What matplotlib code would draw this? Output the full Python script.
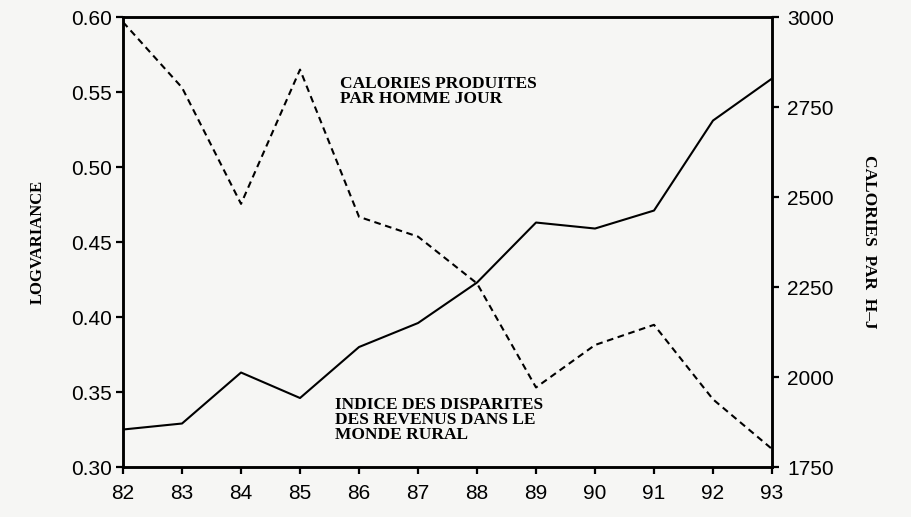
import numpy as np
import matplotlib
matplotlib.use('Agg')
from matplotlib import pyplot as plt

# annees (82 = 1982 ...)
annees = [82, 83, 84, 85, 86, 87, 88, 89, 90, 91, 92, 93]
# indice des disparites des revenus (logvariance, axe gauche)
logvariance = [0.325, 0.329, 0.363, 0.346, 0.380, 0.396, 0.423, 0.463, 0.459, 0.471, 0.531, 0.559]
# calories produites par homme jour (axe droit)
calories = [2986, 2804, 2481, 2854, 2445, 2390, 2260, 1971, 2089, 2145, 1938, 1800]

left_ticks = [0.30, 0.35, 0.40, 0.45, 0.50, 0.55, 0.60]
right_ticks = [1750, 2000, 2250, 2500, 2750, 3000]

serif = ['Liberation Serif', 'DejaVu Serif']
sans = ['Liberation Sans', 'DejaVu Sans']

fig = plt.figure(figsize=(9.12, 5.17), dpi=100, facecolor='#f6f6f4')
ax = fig.add_axes([0.1349, 0.0967, 0.7116, 0.8703])
ax.set_facecolor('#f6f6f4')
ax2 = ax.twinx()

ax.plot(annees, logvariance, color='black', linewidth=1.5)
ax2.plot(annees, calories, color='black', linewidth=1.5, linestyle=(0, (3.2, 2.2)))

ax.set_xlim(82, 93)
ax.set_ylim(0.30, 0.60)
ax2.set_ylim(1750, 3000)
ax.set_xticks(annees)
ax.set_yticks(left_ticks)
ax.set_yticklabels(['%.2f' % v for v in left_ticks])
ax2.set_yticks(right_ticks)

for a in (ax, ax2):
    for s in a.spines.values():
        s.set_linewidth(1.8)
    a.tick_params(direction='out', length=5, width=1.6, labelsize=15, pad=3)
    for lab in a.get_xticklabels() + a.get_yticklabels():
        lab.set_family(sans)
ax.tick_params(axis='x', pad=7)
ax2.tick_params(axis='y', pad=6)

ax.set_ylabel('LOGVARIANCE', family=serif, fontweight='bold', fontsize=12, labelpad=18)
ax2.set_ylabel('CALORIES  PAR  H\u2013J', family=serif, fontweight='bold', fontsize=12.5,
               rotation=-90, labelpad=31)

ax.text(85.68, 0.561, 'CALORIES PRODUITES\nPAR HOMME JOUR', family=serif, fontweight='bold',
        fontsize=12.5, va='top', ha='left', linespacing=0.95)
ax.text(85.6, 0.3465, 'INDICE DES DISPARITES\nDES REVENUS DANS LE\nMONDE RURAL', family=serif,
        fontweight='bold', fontsize=12.5, va='top', ha='left', linespacing=0.92)

plt.savefig('out.png', dpi=100, facecolor=fig.get_facecolor())
